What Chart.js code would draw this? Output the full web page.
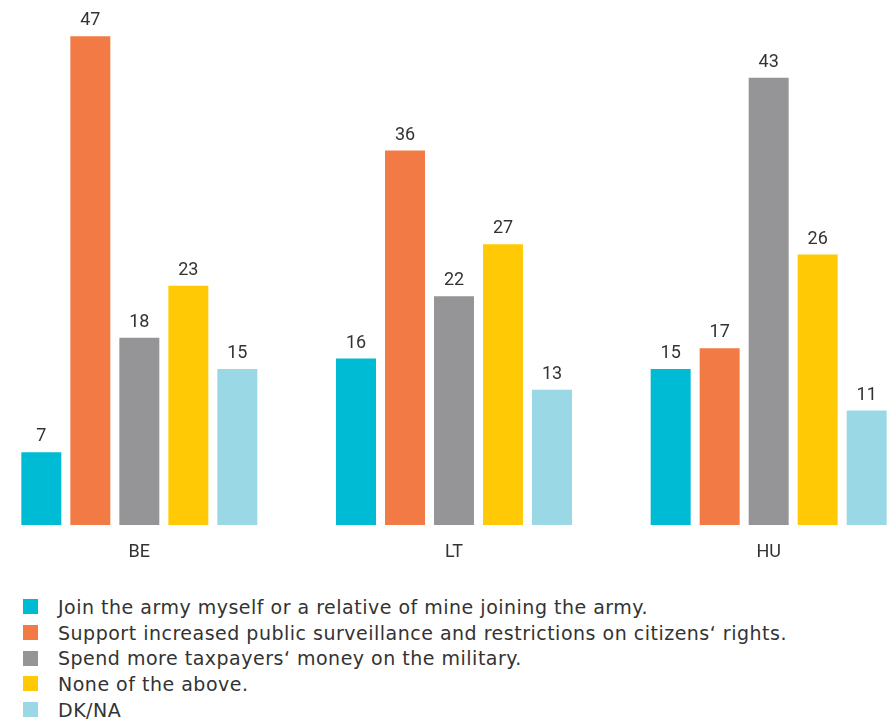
<!DOCTYPE html>
<html>
<head>
<meta charset="utf-8">
<script src="https://cdn.jsdelivr.net/npm/chart.js@4.4.1/dist/chart.umd.min.js"></script>
<style>
  html, body {
    margin: 0;
    padding: 0;
    background: #ffffff;
    width: 887px;
    height: 721px;
    overflow: hidden;
    position: relative;
  }
  #chartBox {
    position: absolute;
    left: -18px;
    top: 0;
    width: 944px;
    height: 575px;
  }
  #legend {
    position: absolute;
    left: 23px;
    top: 594px;
    margin: 0;
    padding: 0;
    list-style: none;
    font-family: "DejaVu Sans", sans-serif;
  }
  #legend li {
    display: flex;
    align-items: center;
    height: 25.7px;
    font-size: 19px;
    letter-spacing: 0.5px;
    color: #333333;
    white-space: nowrap;
  }
  #legend .swatch {
    width: 15px;
    height: 15px;
    margin-right: 20px;
    flex: none;
  }
</style>
</head>
<body>
<div id="chartBox"><canvas id="chart"></canvas></div>
<ul id="legend"></ul>

<script>
// Countries along the x axis
const countries = ['BE', 'LT', 'HU'];

// Answer options, one dataset each
const answers = [
  'Join the army myself or a relative of mine joining the army.',
  'Support increased public surveillance and restrictions on citizens\u2018 rights.',
  'Spend more taxpayers\u2018 money on the military.',
  'None of the above.',
  'DK/NA'
];

// Percentages per answer, ordered BE, LT, HU
const joinArmy = [7, 16, 15];
const surveillance = [47, 36, 17];
const militarySpending = [18, 22, 43];
const noneOfAbove = [23, 27, 26];
const dontKnow = [15, 13, 11];

const seriesValues = [joinArmy, surveillance, militarySpending, noneOfAbove, dontKnow];
const seriesColors = ['#00bbd4', '#f27a45', '#959597', '#ffca05', '#9bd8e6'];

const textColor = '#333333';
const fontFamily = 'Roboto, "Noto Sans", sans-serif';

// Draws each bar's value just above it
const valueLabels = {
  id: 'valueLabels',
  afterDatasetsDraw(chart) {
    const ctx = chart.ctx;
    ctx.save();
    ctx.font = '18px ' + fontFamily;
    ctx.fillStyle = textColor;
    ctx.textAlign = 'center';
    ctx.textBaseline = 'alphabetic';
    chart.data.datasets.forEach((ds, i) => {
      chart.getDatasetMeta(i).data.forEach((bar, j) => {
        ctx.fillText(String(ds.data[j]), bar.x, bar.y - 11);
      });
    });
    ctx.restore();
  }
};

new Chart(document.getElementById('chart'), {
  type: 'bar',
  data: {
    labels: countries,
    datasets: answers.map((label, i) => ({
      label: label,
      data: seriesValues[i],
      backgroundColor: seriesColors[i],
      borderWidth: 0,
      barPercentage: 0.816,
      categoryPercentage: 0.7786
    }))
  },
  options: {
    responsive: true,
    maintainAspectRatio: false,
    animation: false,
    layout: { padding: { top: 5, left: 0, right: 0, bottom: 0 } },
    plugins: {
      legend: { display: false },
      tooltip: { enabled: false }
    },
    scales: {
      x: {
        grid: { display: false, drawTicks: false },
        border: { display: false },
        ticks: {
          color: textColor,
          font: { family: fontFamily, size: 18 },
          padding: 17
        },
        afterFit(scale) { scale.height = 50; }
      },
      y: {
        display: false,
        min: 0,
        max: 50
      }
    }
  },
  plugins: [valueLabels]
});

// Legend list built from the same answers and colours
const legend = document.getElementById('legend');
answers.forEach((label, i) => {
  const li = document.createElement('li');
  const sw = document.createElement('span');
  sw.className = 'swatch';
  sw.style.background = seriesColors[i];
  li.appendChild(sw);
  li.appendChild(document.createTextNode(label));
  legend.appendChild(li);
});
</script>
</body>
</html>
